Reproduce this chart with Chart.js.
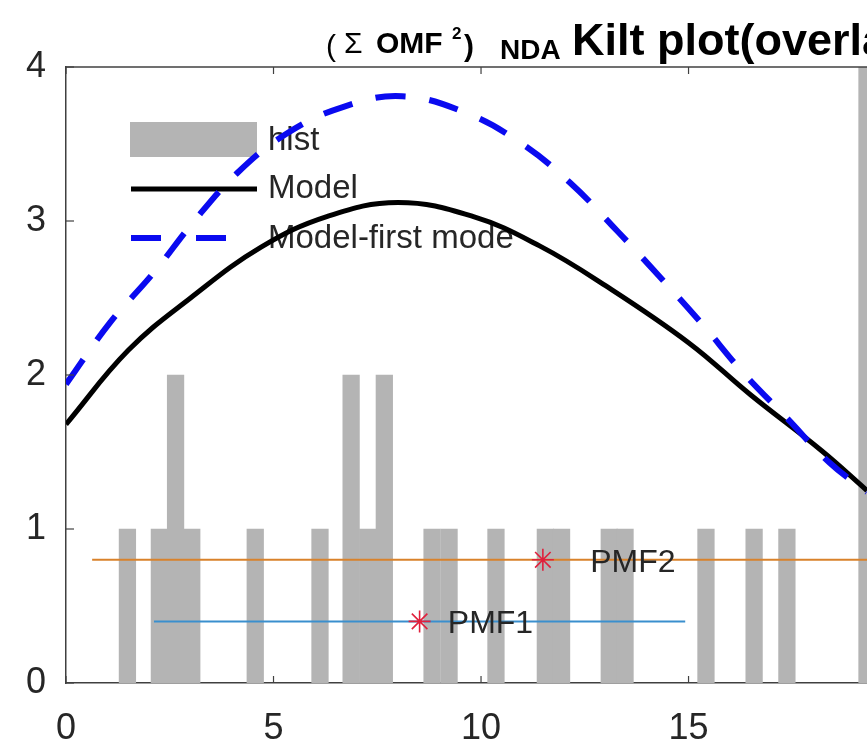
<!DOCTYPE html>
<html>
<head>
<meta charset="utf-8">
<script src="https://cdn.jsdelivr.net/npm/chart.js@4.4.1/dist/chart.umd.min.js"></script>
<style>
  html, body { margin: 0; padding: 0; background: #ffffff; }
  #wrap { width: 867px; height: 748px; }
</style>
</head>
<body>
<div id="wrap"><canvas id="chart" width="867" height="748"></canvas></div>
<script>
// histogram: bin centres and counts
const histX = [1.48, 2.25, 2.64, 3.03, 4.56, 6.12, 6.87, 7.27, 7.67, 8.82, 9.23, 10.36, 11.55, 11.94, 13.09, 13.47, 15.42, 16.58, 17.37, 19.30];
const histY = [1, 1, 2, 1, 1, 1, 2, 1, 2, 1, 1, 1, 1, 1, 1, 1, 1, 1, 1, 5];

// model curve
const modelX = [0, 1.5, 3.0, 4.7, 6.3, 8.0, 9.8, 11.4, 13.0, 15.0, 16.5, 18.2, 19.3];
const modelY = [1.68, 2.16, 2.50, 2.83, 3.03, 3.12, 3.03, 2.84, 2.58, 2.21, 1.87, 1.51, 1.25];

// model - first mode
const firstX = [0, 1.06, 2.1, 3.06, 4.12, 5.33, 6.67, 8.1, 9.66, 10.94, 12.14, 13.3, 14.3, 15.3, 16.3, 17.37, 18.4, 19.3];
const firstY = [1.94, 2.34, 2.66, 2.99, 3.31, 3.57, 3.74, 3.81, 3.70, 3.51, 3.25, 2.93, 2.64, 2.34, 2.02, 1.72, 1.43, 1.24];

// PMF markers and ranges
const pmfNames = ['PMF1', 'PMF2'];
const pmfCenter = [8.52, 11.49];
const pmfLevel = [0.4, 0.8];
const pmfFrom = [2.12, 0.63];
const pmfTo = [14.92, 22.35];
const pmfTextX = [9.2, 12.63];
const pmfColors = ['#3a8fce', '#d9822b'];

const xTicks = [0, 5, 10, 15];
const yTicks = [0, 1, 2, 3, 4];

const FONT = '"Liberation Sans", Arial, Helvetica, sans-serif';
const TEXT = '#262626';
const AXIS = '#404040';

const toXY = (xs, ys) => xs.map((x, i) => ({ x: x, y: ys[i] }));

const datasets = [
  { type: 'line', label: 'Model-first mode', data: toXY(firstX, firstY), borderColor: '#0a0af0',
    borderWidth: 6, borderDash: [30, 24], pointRadius: 0, tension: 0.4, order: 1 },
  { type: 'line', label: 'Model', data: toXY(modelX, modelY), borderColor: '#000000',
    borderWidth: 5, pointRadius: 0, tension: 0.4, order: 2 }
];
pmfNames.forEach((name, i) => {
  datasets.push({ type: 'scatter', label: name + ' mark', data: [{ x: pmfCenter[i], y: pmfLevel[i] }],
    pointStyle: 'star', pointRadius: 11, borderColor: '#e0203c', borderWidth: 1.6, backgroundColor: '#e0203c', order: 3 });
  datasets.push({ type: 'line', label: name, data: [{ x: pmfFrom[i], y: pmfLevel[i] }, { x: pmfTo[i], y: pmfLevel[i] }],
    borderColor: pmfColors[i], borderWidth: 2, pointRadius: 0, order: 4 });
});
datasets.push({ type: 'bar', label: 'hist', data: toXY(histX, histY), backgroundColor: '#b4b4b4',
  borderWidth: 0, barThickness: 16.6, order: 10 });

// legend drawn inside the axes, MATLAB style (no box)
const legendPlugin = {
  id: 'inLegend',
  beforeDatasetsDraw(chart) {
    const { ctx, chartArea: a } = chart;
    const x0 = a.left + 65, x1 = a.left + 191, tx = a.left + 202;
    ctx.save();
    ctx.fillStyle = '#b4b4b4';
    ctx.fillRect(x0 - 1, a.top + 55, x1 - x0 + 1, 35);
    ctx.strokeStyle = '#000000';
    ctx.lineWidth = 5;
    ctx.beginPath(); ctx.moveTo(x0, a.top + 122); ctx.lineTo(x1, a.top + 122); ctx.stroke();
    ctx.strokeStyle = '#0a0af0';
    ctx.lineWidth = 6;
    ctx.setLineDash([30, 35]);
    ctx.beginPath(); ctx.moveTo(x0, a.top + 171); ctx.lineTo(x1 - 30, a.top + 171); ctx.stroke();
    ctx.setLineDash([]);
    ctx.fillStyle = TEXT;
    ctx.font = '33px ' + FONT;
    ctx.textBaseline = 'middle';
    ctx.fillText('hist', tx, a.top + 74);
    ctx.fillText('Model', tx, a.top + 122);
    ctx.fillText('Model-first mode', tx, a.top + 172);
    ctx.restore();
  }
};

// box line, inward ticks, PMF labels, title
const decoPlugin = {
  id: 'deco',
  afterDatasetsDraw(chart) {
    const { ctx, chartArea: a, scales: { x, y } } = chart;
    ctx.save();
    ctx.strokeStyle = AXIS;
    ctx.lineWidth = 1.5;
    ctx.beginPath(); ctx.moveTo(a.left, a.top); ctx.lineTo(a.right, a.top); ctx.stroke();
    ctx.lineWidth = 1.2;
    xTicks.forEach(v => {
      const px = x.getPixelForValue(v);
      ctx.beginPath();
      ctx.moveTo(px, a.bottom); ctx.lineTo(px, a.bottom - 7);
      ctx.moveTo(px, a.top); ctx.lineTo(px, a.top + 7);
      ctx.stroke();
    });
    yTicks.forEach(v => {
      const py = y.getPixelForValue(v);
      ctx.beginPath(); ctx.moveTo(a.left, py); ctx.lineTo(a.left + 8, py); ctx.stroke();
    });

    ctx.fillStyle = TEXT;
    ctx.font = '32px ' + FONT;
    ctx.textBaseline = 'middle';
    pmfNames.forEach((name, i) => {
      ctx.fillText(name, x.getPixelForValue(pmfTextX[i]), y.getPixelForValue(pmfLevel[i]) + 3);
    });
    ctx.restore();
  },
  afterDraw(chart) {
    const { ctx } = chart;
    ctx.save();
    ctx.fillStyle = '#000000';
    ctx.textBaseline = 'alphabetic';
    ctx.font = '30px ' + FONT;
    ctx.fillText('(', 326, 56);
    ctx.fillText('\u03A3', 344, 53);
    ctx.font = 'bold 30px ' + FONT;
    ctx.fillText('OMF', 376, 53);
    ctx.font = 'bold 17px ' + FONT;
    ctx.fillText('2', 452, 39);
    ctx.font = 'bold 30px ' + FONT;
    ctx.fillText(')', 464, 56);
    ctx.font = 'bold 28px ' + FONT;
    ctx.fillText('NDA', 500, 59);
    ctx.font = 'bold 45px ' + FONT;
    ctx.fillText('Kilt plot(overlay)', 572, 55);
    ctx.restore();
  }
};

new Chart(document.getElementById('chart'), {
  data: { datasets: datasets },
  options: {
    responsive: false,
    animation: false,
    events: [],
    layout: { autoPadding: false, padding: { top: 67, right: 0, left: 0, bottom: 0 } },
    plugins: { legend: { display: false }, tooltip: { enabled: false }, title: { display: false } },
    scales: {
      x: {
        type: 'linear', min: 0, max: 19.3, offset: false,
        afterBuildTicks: s => { s.ticks = xTicks.map(v => ({ value: v })); },
        afterFit: s => { s.height = 65; },
        grid: { display: false, drawTicks: false, offset: false },
        border: { display: true, color: AXIS, width: 1.5 },
        ticks: { padding: 24, color: TEXT, font: { family: FONT, size: 36 }, maxRotation: 0, autoSkip: false }
      },
      y: {
        type: 'linear', min: 0, max: 4,
        afterBuildTicks: s => { s.ticks = yTicks.map(v => ({ value: v })); },
        afterFit: s => { s.width = 66; },
        grid: { display: false, drawTicks: false },
        border: { display: true, color: AXIS, width: 1.5 },
        ticks: { padding: 20, color: TEXT, font: { family: FONT, size: 36 }, autoSkip: false }
      }
    }
  },
  plugins: [legendPlugin, decoPlugin]
});
</script>
</body>
</html>
